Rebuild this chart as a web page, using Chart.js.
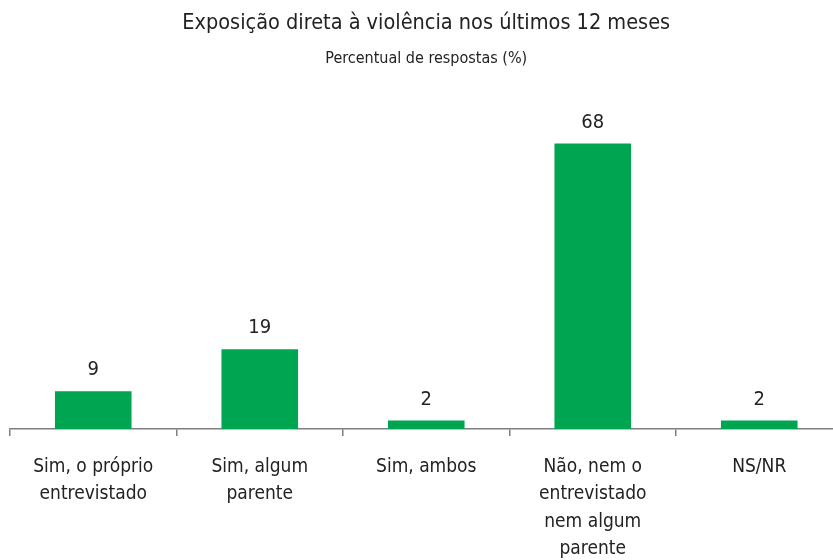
<!DOCTYPE html>
<html>
<head>
<meta charset="utf-8">
<script src="https://cdn.jsdelivr.net/npm/chart.js@4/dist/chart.umd.min.js"></script>
<style>
  html, body { margin: 0; padding: 0; background: #fff; overflow: hidden; }
  #wrap { width: 854px; height: 560px; position: relative; }
</style>
</head>
<body>
<div id="wrap"><canvas id="c" width="854" height="560"></canvas></div>
<script>
const categories = [
  ["Sim, o próprio", "entrevistado"],
  ["Sim, algum", "parente"],
  "Sim, ambos",
  ["Não, nem o", "entrevistado", "nem algum", "parente"],
  "NS/NR"
];
const values = [9, 19, 2, 68, 2];
const titleText = "Exposição direta à violência nos últimos 12 meses";
const subtitleText = "Percentual de respostas (%)";

const FONT = "'Liberation Sans Narrow', 'DejaVu Sans Condensed', 'Roboto', sans-serif";

const valueLabels = {
  id: 'valueLabels',
  afterDatasetsDraw(chart) {
    const ctx = chart.ctx;
    const meta = chart.getDatasetMeta(0);
    ctx.save();
    ctx.font = "20px " + FONT;
    ctx.fillStyle = "#222";
    ctx.textAlign = "center";
    ctx.textBaseline = "bottom";
    meta.data.forEach((bar, i) => {
      ctx.fillText(String(values[i]), bar.x, bar.y - 11);
    });
    ctx.restore();
  }
};

new Chart(document.getElementById('c'), {
  type: 'bar',
  data: {
    labels: categories,
    datasets: [{
      data: values,
      backgroundColor: '#00A551',
      borderWidth: 0,
      categoryPercentage: 1,
      barPercentage: 0.46
    }]
  },
  options: {
    responsive: false,
    animation: false,
    layout: { padding: { left: 10, right: 11.5, top: 0, bottom: 0 } },
    plugins: {
      legend: { display: false },
      tooltip: { enabled: false },
      title: {
        display: true,
        text: titleText,
        color: '#222',
        font: { family: FONT, size: 21.5, weight: 'normal', lineHeight: 1.2 },
        padding: { top: 11, bottom: 12 }
      },
      subtitle: {
        display: true,
        text: subtitleText,
        color: '#222',
        font: { family: FONT, size: 16, weight: 'normal', lineHeight: 1.2 },
        padding: { top: 0, bottom: 25 }
      }
    },
    scales: {
      x: {
        offset: true,
        border: { display: true, color: '#7f7f7f', width: 1.5 },
        grid: {
          display: true,
          offset: true,
          drawOnChartArea: false,
          drawTicks: true,
          tickLength: 7,
          color: '#7f7f7f',
          lineWidth: 1.5
        },
        ticks: {
          color: '#222',
          font: { family: FONT, size: 19, lineHeight: 1.45 },
          padding: 17,
          maxRotation: 0,
          autoSkip: false
        },
        afterFit(scale) { scale.height = 131; }
      },
      y: {
        display: false,
        min: 0,
        max: 80
      }
    }
  },
  plugins: [valueLabels]
});
</script>
</body>
</html>
